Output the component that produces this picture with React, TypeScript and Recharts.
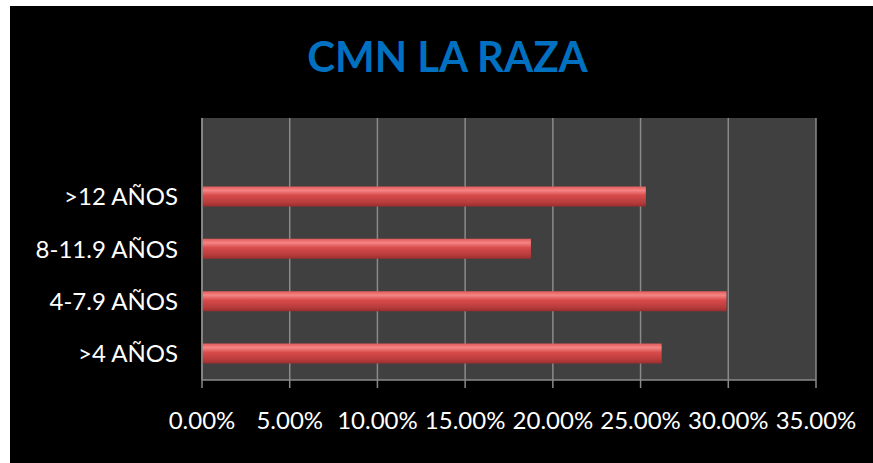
import { Bar, BarChart, CartesianGrid, XAxis, YAxis } from "recharts";

const categories = ["", ">12 AÑOS", "8-11.9 AÑOS", "4-7.9 AÑOS", ">4 AÑOS"];
const values = [null, 0.253, 0.1875, 0.299, 0.262];
const xTicks = [0, 0.05, 0.1, 0.15, 0.2, 0.25, 0.3, 0.35];
const bandTicks = [0, 1, 2, 3, 4, 5];

const data = categories.map((c, i) => ({ name: c, value: values[i] }));

const font = "Lato, 'Open Sans', sans-serif";
const gray = "#8a8a8a";

export default function App() {
  return (
    <div style={{ position: "absolute", left: 10, top: 6, width: 863, height: 457, background: "#000" }}>
      <div
        style={{
          position: "absolute",
          left: 6,
          width: 863,
          top: 29,
          textAlign: "center",
          fontFamily: font,
          fontWeight: 700,
          fontSize: 42,
          lineHeight: "42px",
          color: "#0070C0",
        }}
      >
        CMN LA RAZA
      </div>
      <BarChart
        width={863}
        height={457}
        data={data}
        layout="vertical"
        margin={{ top: 112, right: 57, left: 0, bottom: 0 }}
      >
        <defs>
          <linearGradient id="redBar" x1="0" y1="0" x2="0" y2="1">
            <stop offset="0%" stopColor="#e25a5a" />
            <stop offset="20%" stopColor="#f58585" />
            <stop offset="45%" stopColor="#d84a4a" />
            <stop offset="80%" stopColor="#b83c3c" />
            <stop offset="100%" stopColor="#9a2e2e" />
          </linearGradient>
        </defs>
        <CartesianGrid horizontal={false} stroke={gray} strokeWidth={1.5} fill="#404040" />
        <XAxis
          type="number"
          dataKey="value"
          domain={[0, 0.35]}
          ticks={xTicks}
          height={83}
          tickSize={8}
          tickMargin={24}
          stroke={gray}
          strokeWidth={1.5}
          tick={{ fill: "#fff", fontSize: 24, fontFamily: font }}
          tickFormatter={(v: number) => (v * 100).toFixed(2) + "%"}
        />
        <YAxis
          yAxisId="bands"
          type="number"
          domain={[0, 5]}
          ticks={bandTicks}
          width={8}
          tickSize={8}
          tick={false}
          stroke={gray}
          strokeWidth={1.5}
        />
        <YAxis
          yAxisId="cat"
          type="category"
          dataKey="name"
          width={184}
          axisLine={false}
          tickLine={false}
          tickSize={0}
          tickMargin={16}
          tick={{ fill: "#fff", fontSize: 24, fontFamily: font }}
        />
        <Bar yAxisId="cat" dataKey="value" barSize={20} fill="url(#redBar)" isAnimationActive={false} />
      </BarChart>
    </div>
  );
}
